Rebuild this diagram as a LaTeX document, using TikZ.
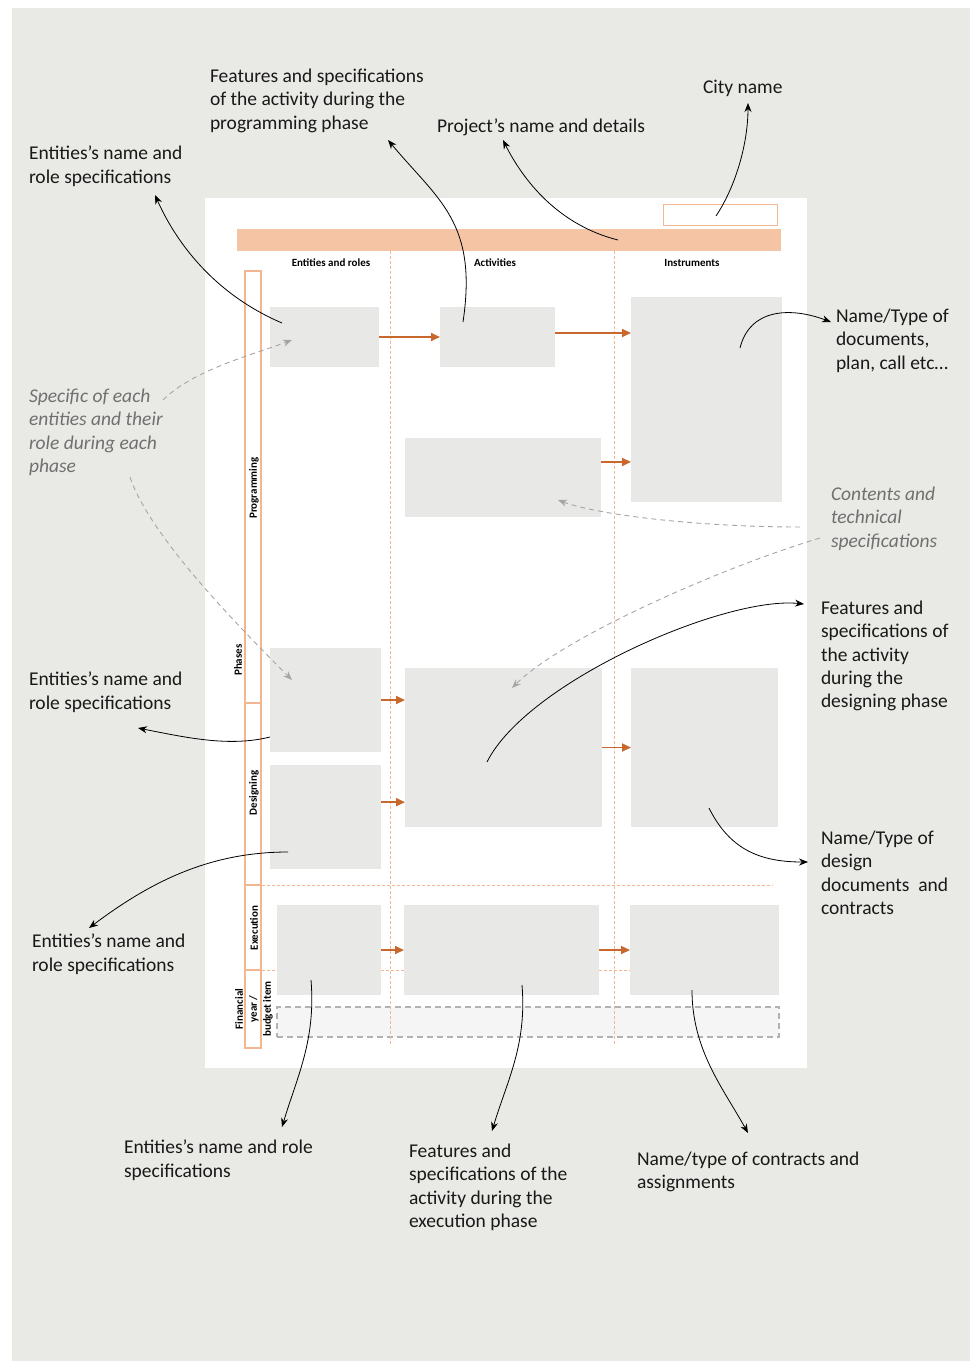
\documentclass[tikz,border=0pt]{standalone}
\usepackage{fontspec}
\setmainfont{Carlito}
\usetikzlibrary{arrows.meta}
\definecolor{pagegrey}{RGB}{233,233,229}
\definecolor{cellgrey}{RGB}{232,232,230}
\definecolor{bandorange}{RGB}{245,196,165}
\definecolor{lineorange}{RGB}{242,182,145}
\definecolor{flowbrown}{RGB}{200,104,44}
\definecolor{notegrey}{RGB}{112,112,112}
\definecolor{dashgrey}{RGB}{165,165,165}

% grey cell from its corners
\newcommand{\cell}[5]{\node[cell,minimum width={#4-#2},minimum height={#5-#3}] (#1) at ({(#2+#4)/2},{(#3+#5)/2}) {};}

\begin{document}
\begin{tikzpicture}[x=1pt,y=-1pt]
        \tikzstyle{every node}=[inner sep=0pt,outer sep=0pt]
        \tikzstyle{cell}=[fill=cellgrey,draw=none]
        \tikzstyle{note}=[font=\fontsize{19.5}{23.3}\selectfont,align=left,anchor=north west,text=black!90]
        \tikzstyle{hint}=[note,font=\fontsize{19.5}{23.3}\selectfont\itshape,text=notegrey]
        \tikzstyle{head}=[font=\fontsize{11}{12}\selectfont\bfseries]
        \tikzstyle{phase}=[head,rotate=90]
        \tikzstyle{flow}=[draw=flowbrown,line width=1.8pt,-{Triangle[length=9pt,width=8pt]}]
        \tikzstyle{guide}=[draw=lineorange,dash pattern=on 3pt off 2pt,line width=0.9pt]
        \tikzstyle{callout}=[draw=black,line width=0.8pt,-{Stealth[length=9pt,width=7pt]}]
        \tikzstyle{hintline}=[draw=dashgrey,line width=0.9pt,dash pattern=on 5pt off 4pt,-{Stealth[length=9pt,width=7pt]}]

        \useasboundingbox (0,0) rectangle (970,1361);
        \fill[pagegrey] (12,8) rectangle (970,1361);
        \fill[white] (205,198) rectangle (807,1068);

        % header
        \node[fill=bandorange,minimum width=544,minimum height=22] (band) at (509,240) {};
        \node[draw=lineorange,line width=1.5pt,fill=white,minimum width=114,minimum height=21] (citybox) at (720.5,215) {};
        \node[head] (hEnt) at (331,263) {Entities and roles};
        \node[head] (hAct) at (495,263) {Activities};
        \node[head] (hIns) at (692,263) {Instruments};

        % phases bar
        \draw[lineorange,line width=1.5pt] (245,271) rectangle (261,1048);
        \foreach\y in {703,885,970}{
            \draw[lineorange,line width=1.5pt] (245,\y) -- (261,\y);
        }
        \node[phase] (lPro) at (254,488) {Programming};
        \node[phase] (lPha) at (238,660) {Phases};
        \node[phase] (lDes) at (254,793) {Designing};
        \node[phase] (lExe) at (254,928) {Execution};
        \node[phase,align=center,font=\fontsize{11}{14}\selectfont\bfseries] (lFin) at (254,1009) {Financial\\year /\\budget item};

        % cells
        \cell{pe}{270}{307}{379}{367}
        \cell{pa}{440}{307}{555}{367}
        \cell{pi}{631}{297}{782}{502}
        \cell{pb}{405}{438}{601}{517}
        \cell{de}{270}{648}{381}{752}
        \cell{df}{270}{765}{381}{869}
        \cell{da}{405}{668}{602}{827}
        \cell{di}{631}{668}{778}{827}
        \cell{ee}{277}{905}{381}{995}
        \cell{ea}{404}{905}{599}{995}
        \cell{ei}{630}{905}{779}{995}
        \node[fill=black!4,draw=black!30,dash pattern=on 6pt off 4pt,line width=1.2pt,minimum width=502,minimum height=30] (fin) at (528,1022) {};

        % dashed guides
        \draw[guide] (390,251) -- (390,1045);
        \draw[guide] (614,251) -- (614,1045);
        \draw[guide] (262,885) -- (773,885);
        \foreach\a/\b in {262/277,381/404,599/630}{
            \draw[guide] (\a,970) -- (\b,970);
        }

        % flows
        \draw[flow] (pe.east) -- (pa.west);
        \draw[flow] (pa.4) -- (pa.4 -| pi.west);
        \draw[flow] (pb.9) -- (pb.9 -| pi.west);
        \draw[flow] (de.east) -- (de.east -| da.west);
        \draw[flow] (df.15) -- (df.15 -| da.west);
        \draw[flow] (da.east) -- (di.west);
        \draw[flow] (ee.east) -- (ea.west);
        \draw[flow] (ea.east) -- (ei.west);

        % notes
        \node[note] (nFeatP) at (210,69) {Features and specifications\\of the activity during the\\programming phase};
        \node[note] (nCity) at (703,80) {City name};
        \node[note] (nProj) at (437,119) {Project’s name and details};
        \node[note] (nEnt1) at (29,146) {Entities’s name and\\role specifications};
        \node[note] (nDoc) at (836,309) {Name/Type of\\documents,\\plan, call etc…};
        \node[hint] (nSpec) at (29,389) {Specific of each\\entities and their\\role during each\\phase};
        \node[hint] (nCont) at (831,487) {Contents and\\technical\\specifications};
        \node[note] (nFeatD) at (821,601) {Features and\\specifications of\\the activity\\during the\\designing phase};
        \node[note] (nEnt2) at (29,672) {Entities’s name and\\role specifications};
        \node[note] (nDD) at (821,831) {Name/Type of\\design\\documents~ and\\contracts};
        \node[note] (nEnt3) at (32,934) {Entities’s name and\\role specifications};
        \node[note] (nEnt4) at (124,1140) {Entities’s name and role\\specifications};
        \node[note] (nFeatE) at (409,1144) {Features and\\specifications of the\\activity during the\\execution phase};
        \node[note] (nCA) at (637,1152) {Name/type of contracts and\\assignments};

        % callouts
        \draw[callout] ([shift={(-34.5,-15)}]pa.center) .. controls +(15,-100) and +(50,60) .. ([shift={(178,71)}]nFeatP.north west);
        \draw[callout] ([shift={(109,0)}]band.center) .. controls +(-60,-15) and +(20,40) .. ([shift={(66,21)}]nProj.north west);
        \draw[callout] ([shift={(-4.5,1)}]citybox.center) .. controls +(20,-30) and +(0,40) .. ([shift={(45,23)}]nCity.north west);
        \draw[callout] ([shift={(-42.5,-14)}]pe.center) .. controls +(-70,-30) and +(20,45) .. ([shift={(126,49)}]nEnt1.north west);
        \draw[callout] ([shift={(33.5,-51.5)}]pi.center) .. controls +(10,-40) and +(-40,-15) .. ([shift={(-5,13)}]nDoc.north west);
        \draw[hintline] ([shift={(134,11)}]nSpec.north west) .. controls +(30,-30) and +(-40,15) .. ([shift={(-32.5,3)}]pe.center);
        \draw[hintline] ([shift={(101,88)}]nSpec.north west) .. controls +(20,60) and +(-50,-50) .. ([shift={(-33.5,-20)}]de.center);
        \draw[hintline] ([shift={(-31,40)}]nCont.north west) .. controls +(-100,0) and +(40,15) .. ([shift={(55,22.5)}]pb.center);
        \draw[hintline] ([shift={(-11,51)}]nCont.north west) .. controls +(-100,30) and +(50,-50) .. ([shift={(8.5,-59.5)}]da.center);
        \draw[callout] ([shift={(-16.5,14.5)}]da.center) .. controls +(40,-80) and +(-80,-8) .. ([shift={(-17,3)}]nFeatD.north west);
        \draw[callout] ([shift={(-55.5,37)}]de.center) .. controls +(-40,10) and +(50,10) .. ([shift={(109,56)}]nEnt2.north west);
        \draw[callout] ([shift={(-37.5,35)}]df.center) .. controls +(-80,0) and +(60,-45) .. ([shift={(57,-6)}]nEnt3.north west);
        \draw[callout] ([shift={(4.5,60.5)}]di.center) .. controls +(20,40) and +(-50,0) .. ([shift={(-13,31)}]nDD.north west);
        \draw[callout] ([shift={(-18,30)}]ee.center) .. controls +(5,60) and +(15,-50) .. ([shift={(158,-13)}]nEnt4.north west);
        \draw[callout] ([shift={(20.5,35)}]ea.center) .. controls +(5,60) and +(15,-50) .. ([shift={(83,-13)}]nFeatE.north west);
        \draw[callout] ([shift={(-12.5,40)}]ei.center) .. controls +(0,60) and +(-25,-45) .. ([shift={(111,-19)}]nCA.north west);
\end{tikzpicture}
\end{document}
